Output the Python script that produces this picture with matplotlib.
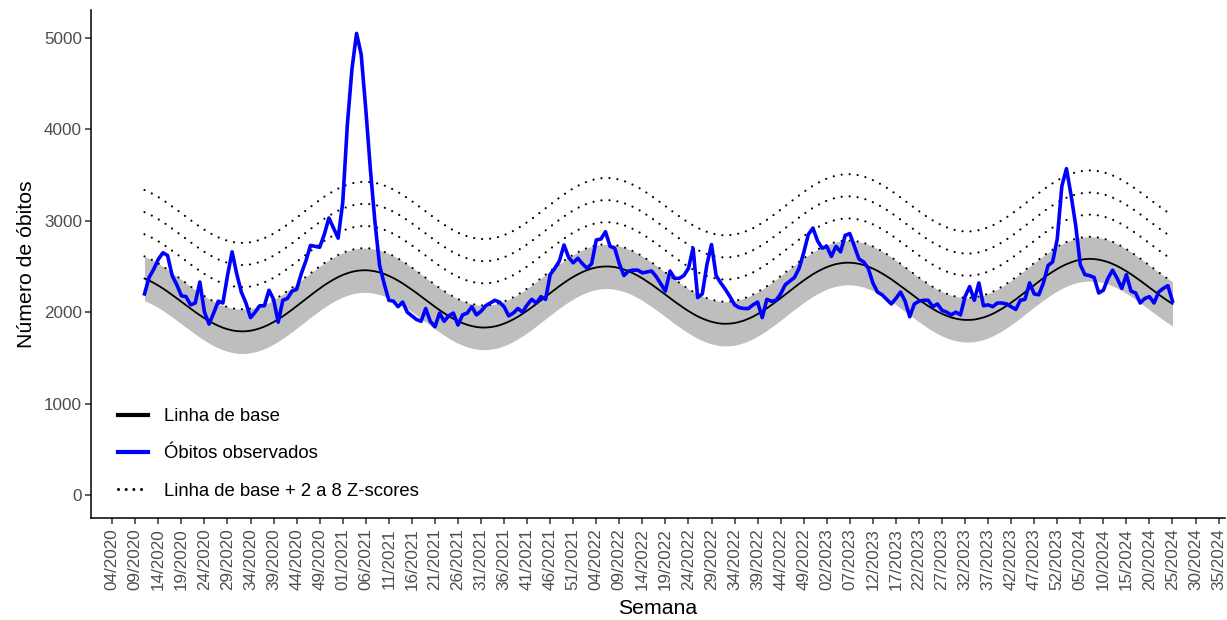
import numpy as np
import matplotlib.pyplot as plt
from matplotlib.lines import Line2D

plt.rcParams['font.family'] = ['Liberation Sans', 'DejaVu Sans']

# indice 0 = semana 04/2020; serie comeca na semana 11/2020
primeira_semana = 7

obitos = [
    2200, 2380, 2470, 2580, 2650, 2620, 2400, 2300, 2180, 2170,
    2080, 2100, 2330, 2000, 1870, 1990, 2120, 2100, 2400, 2660,
    2420, 2220, 2100, 1940, 2000, 2070, 2070, 2240, 2140, 1890,
    2130, 2150, 2230, 2250, 2420, 2560, 2730, 2720, 2710, 2850,
    3030, 2920, 2810, 3200, 4050, 4660, 5050, 4820, 4220, 3560,
    2980, 2510, 2310, 2130, 2120, 2060, 2110, 2000, 1960, 1920,
    1900, 2040, 1900, 1840, 1990, 1900, 1960, 1990, 1860, 1970,
    1990, 2060, 1970, 2010, 2070, 2100, 2130, 2110, 2060, 1960,
    1990, 2040, 2000, 2080, 2140, 2100, 2170, 2140, 2410, 2480,
    2560, 2735, 2600, 2540, 2590, 2530, 2480, 2530, 2790, 2800,
    2880, 2720, 2700, 2530, 2400, 2450, 2460, 2460, 2430, 2440,
    2450, 2390, 2310, 2230, 2450, 2370, 2370, 2400, 2480, 2700,
    2160, 2200, 2520, 2740, 2400, 2320, 2250, 2170, 2080, 2050,
    2040, 2040, 2080, 2110, 1940, 2140, 2120, 2130, 2200, 2300,
    2340, 2380, 2480, 2650, 2850, 2920, 2780, 2700, 2720, 2610,
    2720, 2660, 2840, 2860, 2720, 2580, 2550, 2480, 2320, 2220,
    2190, 2140, 2090, 2150, 2220, 2120, 1950, 2090, 2120, 2130,
    2130, 2060, 2090, 2020, 2000, 1970, 2000, 1970, 2170, 2280,
    2130, 2320, 2070, 2080, 2060, 2100, 2100, 2090, 2060, 2030,
    2130, 2140, 2320, 2200, 2190, 2320, 2510, 2550, 2800, 3380,
    3570, 3280, 2950, 2520, 2410, 2400, 2380, 2210, 2240, 2370,
    2460, 2370, 2260, 2410, 2230, 2210, 2100, 2150, 2170, 2100,
    2220, 2260, 2290, 2120,
]

linha_base = [
    2368, 2346, 2320, 2291, 2259, 2225, 2189, 2152, 2114, 2076,
    2039, 2002, 1967, 1934, 1903, 1875, 1851, 1830, 1814, 1801,
    1793, 1790, 1791, 1797, 1808, 1823, 1842, 1865, 1892, 1922,
    1955, 1990, 2027, 2066, 2105, 2145, 2184, 2222, 2259, 2295,
    2327, 2357, 2384, 2407, 2426, 2441, 2452, 2457, 2459, 2455,
    2447, 2435, 2418, 2397, 2373, 2345, 2315, 2281, 2246, 2210,
    2172, 2134, 2096, 2059, 2023, 1989, 1957, 1928, 1902, 1880,
    1862, 1848, 1838, 1832, 1832, 1836, 1844, 1857, 1875, 1896,
    1921, 1950, 1982, 2016, 2052, 2090, 2129, 2169, 2208, 2247,
    2285, 2321, 2355, 2386, 2414, 2439, 2460, 2477, 2489, 2497,
    2500, 2499, 2493, 2482, 2467, 2448, 2425, 2399, 2370, 2337,
    2303, 2267, 2230, 2192, 2154, 2116, 2080, 2045, 2012, 1982,
    1954, 1931, 1911, 1895, 1883, 1875, 1873, 1875, 1881, 1893,
    1908, 1928, 1951, 1979, 2009, 2042, 2078, 2115, 2154, 2193,
    2233, 2272, 2310, 2347, 2382, 2415, 2444, 2470, 2493, 2511,
    2526, 2535, 2541, 2541, 2537, 2529, 2516, 2498, 2477, 2452,
    2424, 2393, 2360, 2324, 2287, 2250, 2212, 2174, 2137, 2101,
    2067, 2036, 2007, 1982, 1960, 1942, 1929, 1920, 1915, 1915,
    1919, 1929, 1942, 1960, 1982, 2008, 2037, 2069, 2104, 2140,
    2179, 2218, 2257, 2297, 2336, 2373, 2409, 2442, 2473, 2501,
    2525, 2545, 2562, 2573, 2580, 2583, 2581, 2574, 2563, 2548,
    2528, 2505, 2478, 2448, 2416, 2381, 2345, 2307, 2269, 2231,
    2194, 2158, 2123, 2091,
]

desvio_padrao = 121
z_scores = [2, 4, 6, 8]

rotulos_semana = [
    '04/2020', '09/2020', '14/2020', '19/2020', '24/2020', '29/2020', '34/2020',
    '39/2020', '44/2020', '49/2020',
    '01/2021', '06/2021', '11/2021', '16/2021', '21/2021', '26/2021', '31/2021',
    '36/2021', '41/2021', '46/2021', '51/2021',
    '04/2022', '09/2022', '14/2022', '19/2022', '24/2022', '29/2022', '34/2022',
    '39/2022', '44/2022', '49/2022',
    '02/2023', '07/2023', '12/2023', '17/2023', '22/2023', '27/2023', '32/2023',
    '37/2023', '42/2023', '47/2023', '52/2023',
    '05/2024', '10/2024', '15/2024', '20/2024', '25/2024', '30/2024', '35/2024',
]
valores_y = [0, 1000, 2000, 3000, 4000, 5000]

semanas = np.arange(primeira_semana, primeira_semana + len(obitos))
base = np.array(linha_base)

fig = plt.figure(figsize=(12.27, 6.2), dpi=100)
ax = fig.add_axes([0.0742, 0.1645, 0.9242, 0.8194])

# faixa cinza = linha de base +/- 2 Z
ax.fill_between(semanas, base - 2 * desvio_padrao, base + 2 * desvio_padrao,
                color='#BEBEBE', lw=0, zorder=1)
for z in z_scores:
    ax.plot(semanas, base + z * desvio_padrao, color='black', lw=1.6,
            linestyle=(0, (0.01, 3.6)), dash_capstyle='round', zorder=2)
ax.plot(semanas, base, color='black', lw=1.3, zorder=3)
ax.plot(semanas, obitos, color='#0000FF', lw=2.6, solid_joinstyle='round', zorder=4)

ax.set_xlim(-4.6, 241.4)
ax.set_ylim(-252, 5306)
ax.set_xticks(np.arange(0, 5 * len(rotulos_semana), 5))
ax.set_xticklabels(rotulos_semana, rotation=90)
ax.set_yticks(valores_y)

for s in ['top', 'right']:
    ax.spines[s].set_visible(False)
for s in ['left', 'bottom']:
    ax.spines[s].set_linewidth(1.1)
    ax.spines[s].set_color('black')
ax.tick_params(axis='both', length=4.5, width=1.1, color='#333333',
               labelcolor='#4D4D4D', labelsize=12.3)
ax.tick_params(axis='x', pad=3)
ax.tick_params(axis='y', pad=2)

ax.set_xlabel('Semana', fontsize=15.3, labelpad=6)
ax.set_ylabel('Número de óbitos', fontsize=15.3, labelpad=6)

handles = [
    Line2D([], [], color='black', lw=3),
    Line2D([], [], color='#0000FF', lw=3),
    Line2D([], [], color='black', lw=2.2, linestyle=(0, (0.01, 2.5)), dash_capstyle='round'),
]
labels = ['Linha de base', 'Óbitos observados', 'Linha de base + 2 a 8 Z-scores']
ax.legend(handles, labels, loc='center left', bbox_to_anchor=(0.0238, 0.126),
          frameon=False, fontsize=13.3, handlelength=1.63, handletextpad=0.85,
          labelspacing=1.1, borderpad=0, borderaxespad=0)

fig.savefig('out.png', dpi=100)
